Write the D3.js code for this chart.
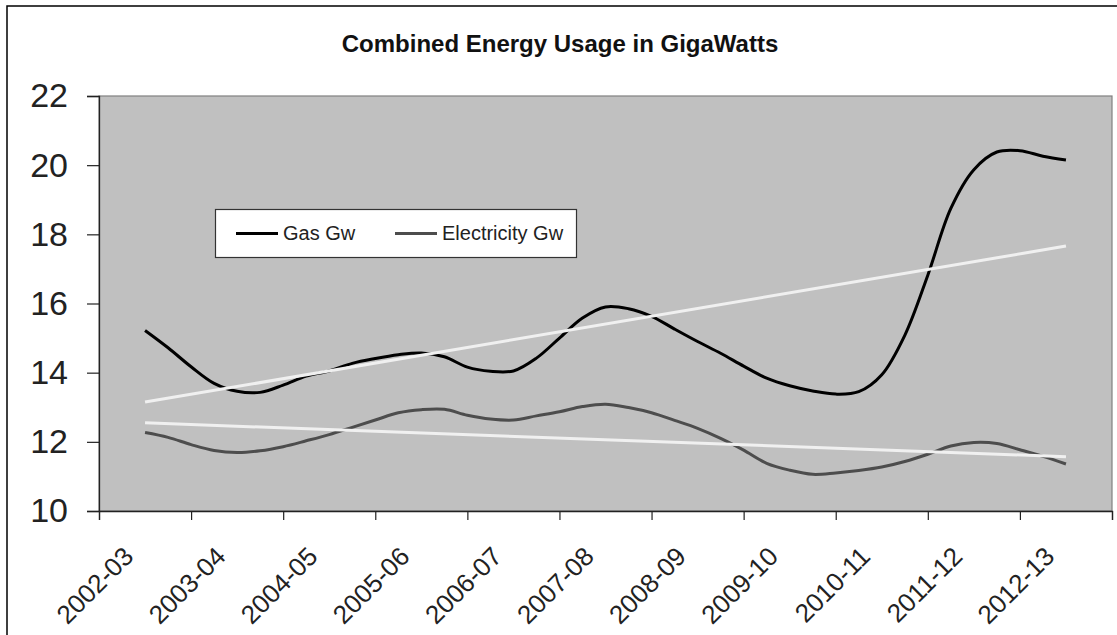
<!DOCTYPE html>
<html>
<head>
<meta charset="utf-8">
<script src="https://cdn.jsdelivr.net/npm/d3@7"></script>
<style>
  html, body { margin: 0; padding: 0; background: #ffffff; }
  svg { display: block; font-family: "Liberation Sans", Arial, sans-serif; }
</style>
</head>
<body>
<svg id="chart" width="1117" height="635"></svg>
<script>
// ---- data ----
const categories = ["2002-03","2003-04","2004-05","2005-06","2006-07","2007-08","2008-09","2009-10","2010-11","2011-12","2012-13"];
const yTicks = [10, 12, 14, 16, 18, 20, 22];
const gasGw = [15.22,14.72,14.17,13.69,13.46,13.43,13.64,13.90,14.05,14.27,14.41,14.52,14.57,14.46,14.16,14.04,
               14.05,14.42,15.00,15.58,15.90,15.85,15.63,15.26,14.90,14.56,14.19,13.84,13.62,13.47,13.38,13.45,
               13.94,15.08,16.82,18.75,19.87,20.38,20.42,20.26,20.15];
const electricityGw = [12.27,12.13,11.92,11.75,11.69,11.74,11.86,12.03,12.21,12.42,12.63,12.84,12.93,12.94,12.77,12.66,
               12.63,12.75,12.87,13.02,13.09,12.99,12.84,12.62,12.39,12.10,11.76,11.38,11.18,11.06,11.10,11.17,
               11.27,11.43,11.64,11.88,11.98,11.95,11.77,11.58,11.36];
const gasTrend = [13.15, 17.66];
const electricityTrend = [12.55, 11.57];
const seriesNames = ["Gas Gw", "Electricity Gw"];
const pointsPerCategory = 4;

// ---- layout ----
const svg = d3.select("#chart");
const plot = { left: 99, right: 1112, top: 96, bottom: 511 };

const x = d3.scaleLinear().domain([0, categories.length]).range([plot.left, plot.right]);
const y = d3.scaleLinear().domain([10, 22]).range([plot.bottom, plot.top]);

// outer chart border
svg.append("rect")
  .attr("x", 7).attr("y", 6).attr("width", 1140).attr("height", 660)
  .attr("fill", "#ffffff").attr("stroke", "#000000").attr("stroke-width", 1.5);

// title
svg.append("text")
  .attr("x", 560).attr("y", 52)
  .attr("text-anchor", "middle")
  .attr("font-weight", "bold").attr("font-size", 24).attr("fill", "#111")
  .text("Combined Energy Usage in GigaWatts");

// plot area
svg.append("rect")
  .attr("x", plot.left).attr("y", plot.top)
  .attr("width", plot.right - plot.left).attr("height", plot.bottom - plot.top)
  .attr("fill", "#c0c0c0").attr("stroke", "#808080").attr("stroke-width", 1.2);

// y axis
const yAxis = svg.append("g")
  .attr("transform", `translate(${plot.left},0)`)
  .call(d3.axisLeft(y).tickValues(yTicks).tickSize(12).tickPadding(19).tickFormat(d3.format("d")));
yAxis.select(".domain").attr("stroke", "#222").attr("stroke-width", 1.3);
yAxis.selectAll(".tick line").attr("stroke", "#222").attr("stroke-width", 1.2);
yAxis.selectAll(".tick text").attr("font-size", 34).attr("fill", "#222")
  .attr("font-family", "'Liberation Sans', Arial, sans-serif");

// x axis (ticks at category boundaries)
const xAxis = svg.append("g")
  .attr("transform", `translate(0,${plot.bottom})`)
  .call(d3.axisBottom(x).tickValues(d3.range(0, categories.length + 1)).tickSize(9).tickFormat(""));
xAxis.select(".domain").attr("stroke", "#222").attr("stroke-width", 1.3);
xAxis.selectAll(".tick line").attr("stroke", "#222").attr("stroke-width", 1.2);

// x labels, rotated, at category centres
svg.append("g").selectAll("text")
  .data(categories)
  .join("text")
  .attr("transform", (d, i) => `translate(${x(i + 0.5) - 10},558) rotate(-45)`)
  .attr("text-anchor", "end")
  .attr("font-size", 26).attr("fill", "#222")
  .text(d => d);

// series
const tOf = i => 0.5 + i / pointsPerCategory;
const line = d3.line()
  .x((d, i) => x(tOf(i)))
  .y(d => y(d))
  .curve(d3.curveCatmullRom.alpha(0.5));

// trend lines
const trendX = [0.5, 0.5 + (gasGw.length - 1) / pointsPerCategory];
const trendLine = d3.line().x((d, i) => x(trendX[i])).y(d => y(d));

svg.append("path").datum(electricityGw).attr("d", line)
  .attr("fill", "none").attr("stroke", "#4d4d4d").attr("stroke-width", 3).attr("stroke-linejoin", "round");
svg.append("path").datum(gasGw).attr("d", line)
  .attr("fill", "none").attr("stroke", "#000000").attr("stroke-width", 3).attr("stroke-linejoin", "round");
svg.append("path").datum(gasTrend).attr("d", trendLine)
  .attr("fill", "none").attr("stroke", "#f0f0f0").attr("stroke-width", 3);
svg.append("path").datum(electricityTrend).attr("d", trendLine)
  .attr("fill", "none").attr("stroke", "#f0f0f0").attr("stroke-width", 3);

// legend
const legend = svg.append("g");
legend.append("rect")
  .attr("x", 215.5).attr("y", 209.5).attr("width", 361).attr("height", 48)
  .attr("fill", "#ffffff").attr("stroke", "#333").attr("stroke-width", 1.2);
const legendItems = [
  { name: seriesNames[0], color: "#000000", x0: 236 },
  { name: seriesNames[1], color: "#4d4d4d", x0: 395 }
];
legendItems.forEach(it => {
  legend.append("line")
    .attr("x1", it.x0).attr("x2", it.x0 + 42).attr("y1", 233.5).attr("y2", 233.5)
    .attr("stroke", it.color).attr("stroke-width", 3);
  legend.append("text")
    .attr("x", it.x0 + 47).attr("y", 240)
    .attr("font-size", 20).attr("fill", "#222")
    .text(it.name);
});
</script>
</body>
</html>
